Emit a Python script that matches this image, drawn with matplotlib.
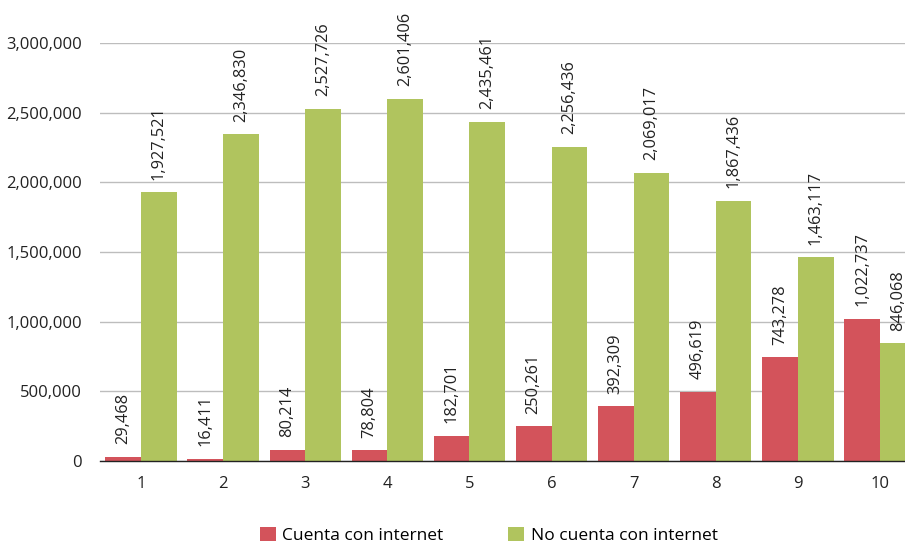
#!/usr/bin/env python3

import numpy as np
import matplotlib.pyplot as plt

plt.rcParams['font.family'] = ['Open Sans', 'DejaVu Sans']

# deciles and household counts
deciles = ['1', '2', '3', '4', '5', '6', '7', '8', '9', '10']
con_internet = [29468, 16411, 80214, 78804, 182701, 250261, 392309, 496619, 743278, 1022737]
sin_internet = [1927521, 2346830, 2527726, 2601406, 2435461, 2256436, 2069017, 1867436, 1463117, 846068]
series_names = ['Cuenta con internet', 'No cuenta con internet']

RED = '#D3535B'
GREEN = '#B0C45E'


def main():
    fig = plt.figure(figsize=(9.05, 5.42), dpi=100)
    ax = fig.add_axes([0.1105, 0.1494, 0.8895, 0.7712])

    x = np.arange(1, len(deciles) + 1)
    w = 0.435
    b1 = ax.bar(x - w / 2, con_internet, w, color=RED, label=series_names[0], zorder=2)
    b2 = ax.bar(x + w / 2, sin_internet, w, color=GREEN, label=series_names[1], zorder=2)

    # etiquetas verticales sobre cada barra
    for bars, vals in ((b1, con_internet), (b2, sin_internet)):
        for r, v in zip(bars, vals):
            ax.annotate(f'{v:,}', (r.get_x() + r.get_width() / 2, r.get_height()),
                        xytext=(0, 9), textcoords='offset points',
                        rotation=90, ha='center', va='bottom',
                        fontsize=11.8, color='#222222', annotation_clip=False)

    ax.set_xlim(0.5, 10.305)
    ax.set_ylim(0, 3000000)
    ax.set_yticks(np.arange(0, 3000001, 500000))
    ax.yaxis.set_major_formatter(plt.FuncFormatter(lambda v, p: f'{int(v):,}'))
    ax.set_xticks(x)
    ax.set_xticklabels(deciles)

    ax.grid(axis='y', color='#BDBDBD', linewidth=1, zorder=0)
    ax.set_axisbelow(True)
    for s in ('top', 'right', 'left'):
        ax.spines[s].set_visible(False)
    ax.spines['bottom'].set_color('#222222')
    ax.spines['bottom'].set_linewidth(1)
    ax.tick_params(axis='y', length=0, pad=13, labelsize=12, colors='#222222')
    ax.tick_params(axis='x', length=0, pad=11, labelsize=12, colors='#222222')

    fig.legend(loc='lower center', bbox_to_anchor=(0.54, -0.032), ncol=2, frameon=False,
               fontsize=12.5, handlelength=0.9, handleheight=0.9, handletextpad=0.4,
               columnspacing=3.7)

    fig.savefig('out.png', dpi=100)


if __name__ == "__main__":
    main()
